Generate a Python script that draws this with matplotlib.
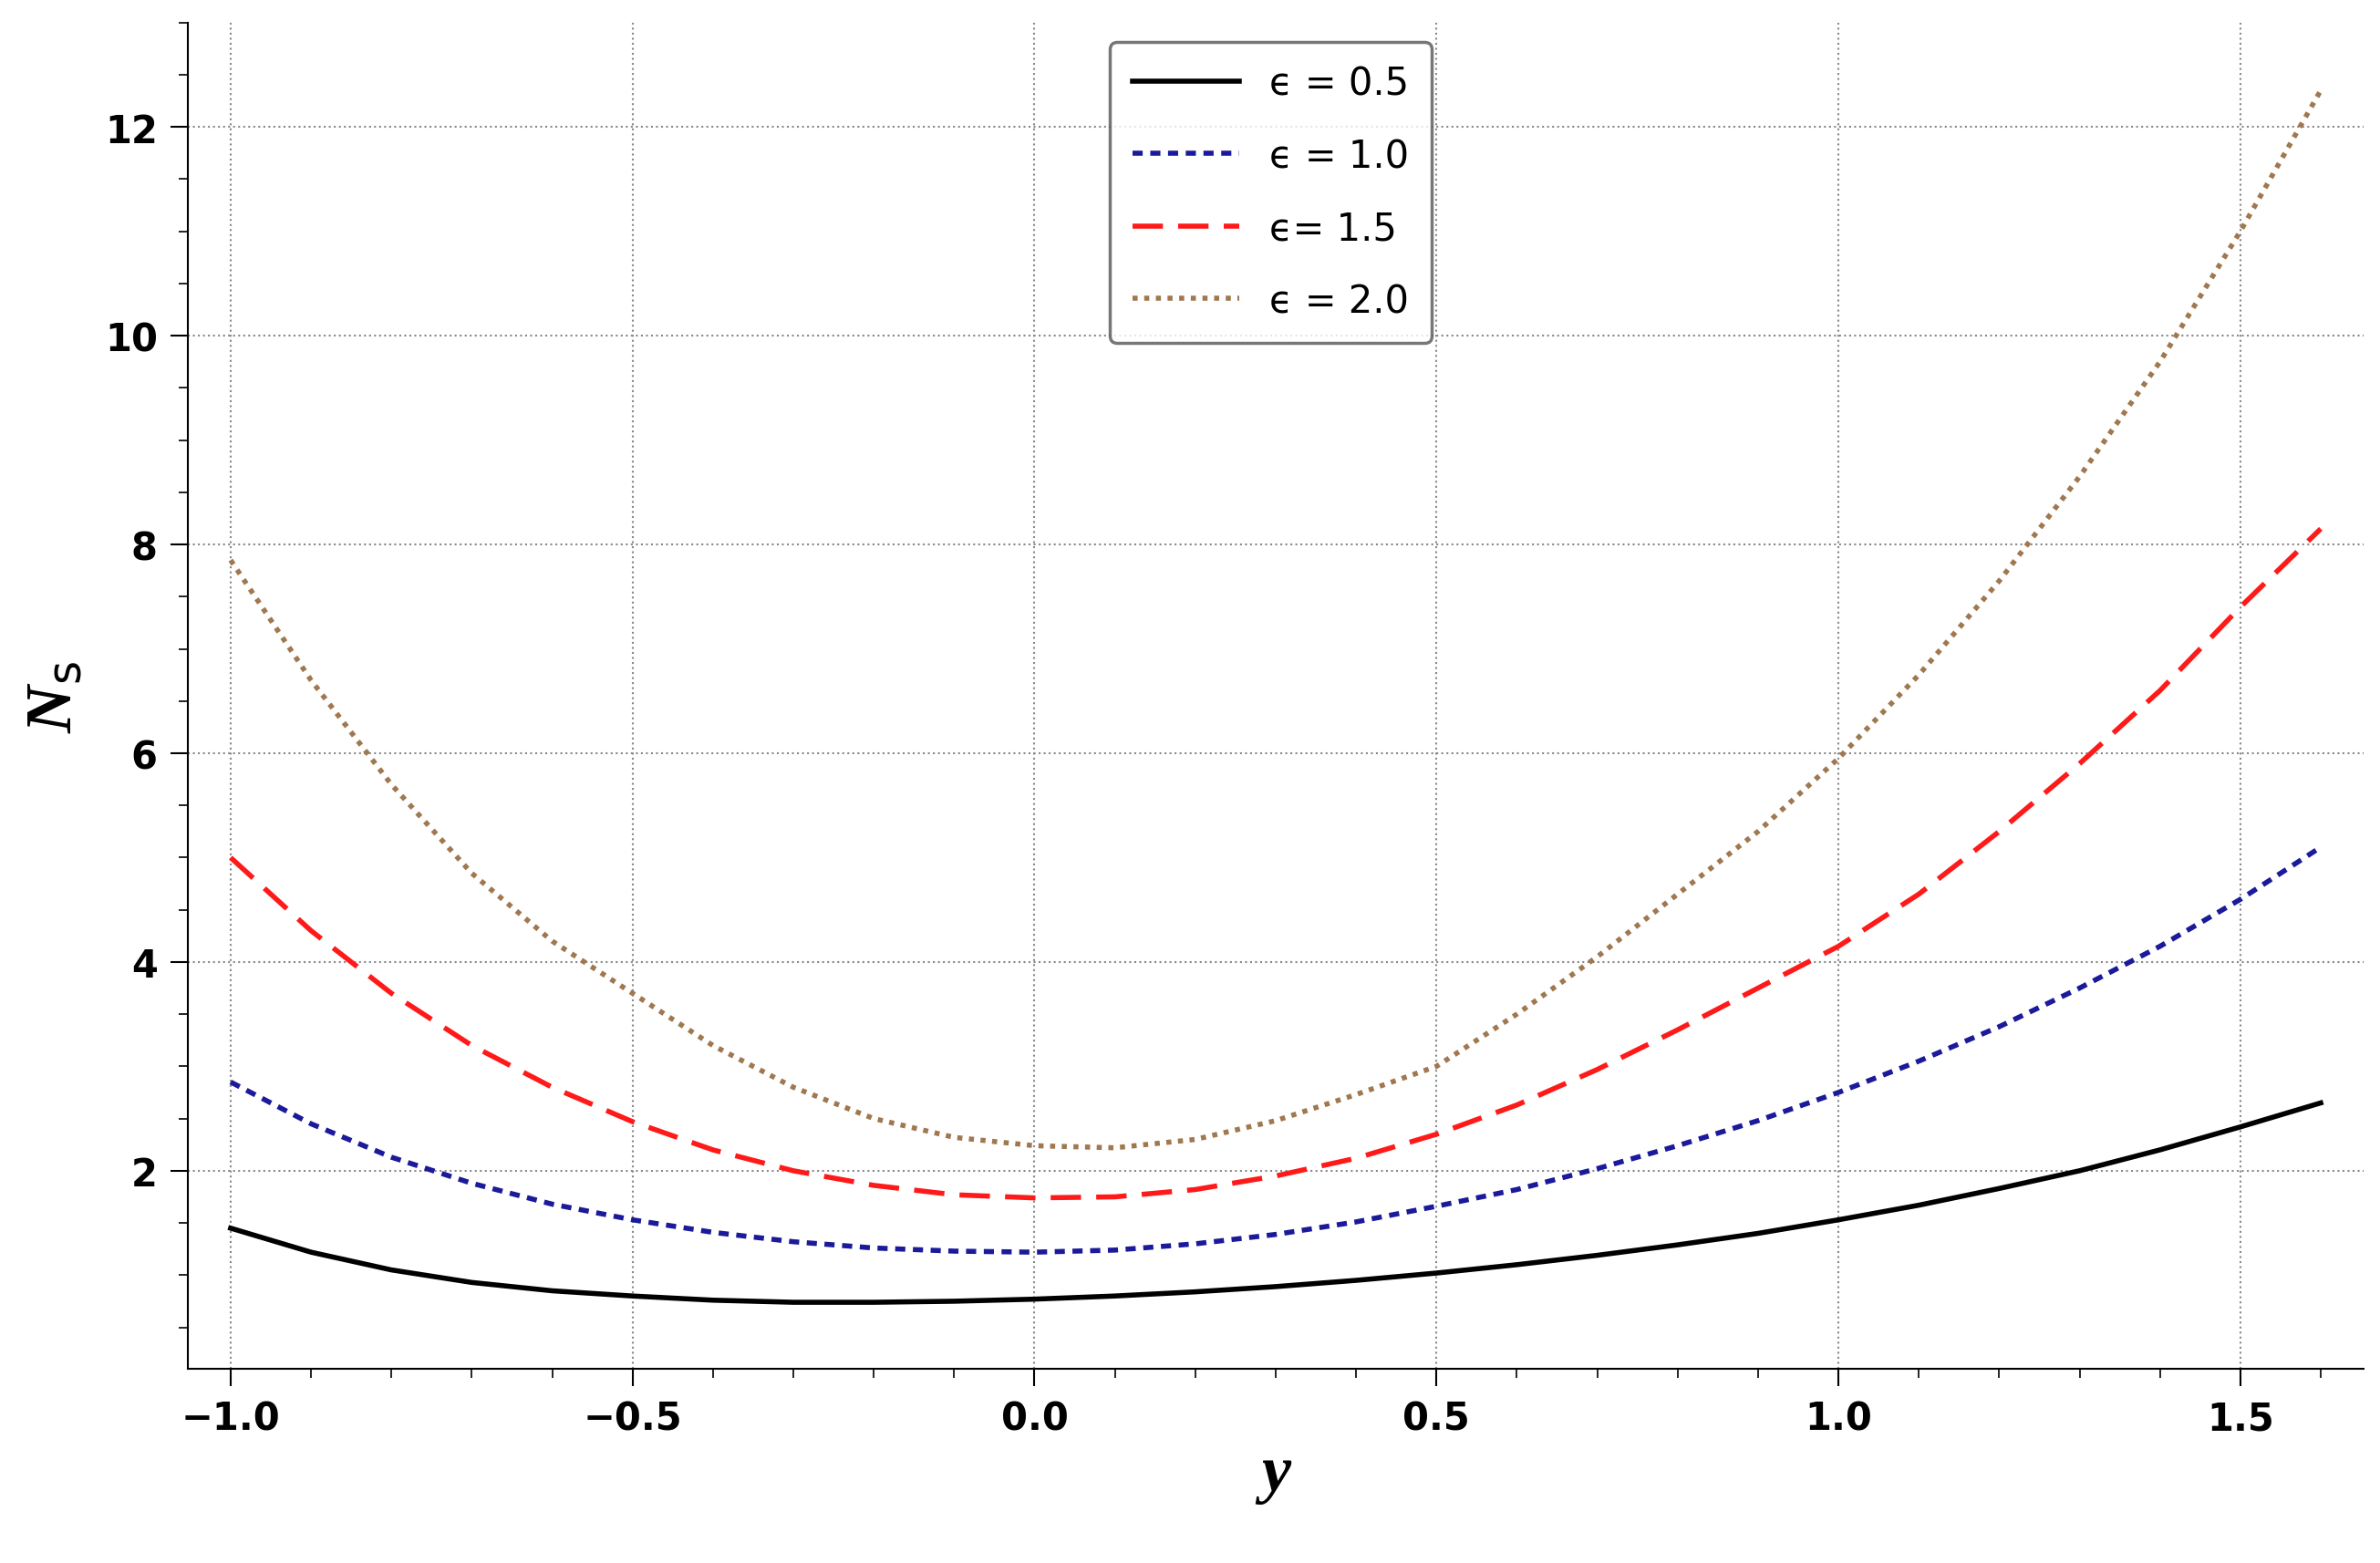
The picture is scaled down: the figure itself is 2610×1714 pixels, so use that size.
import numpy as np
import matplotlib.pyplot as plt
from matplotlib.ticker import MultipleLocator

y = [-1.0, -0.9, -0.8, -0.7, -0.6, -0.5, -0.4, -0.3, -0.2, -0.1, 0.0, 0.1, 0.2,
     0.3, 0.4, 0.5, 0.6, 0.7, 0.8, 0.9, 1.0, 1.1, 1.2, 1.3, 1.4, 1.5, 1.6]
ns_05 = [1.45, 1.22, 1.05, 0.93, 0.85, 0.80, 0.76, 0.74, 0.74, 0.75, 0.77, 0.80, 0.84,
         0.89, 0.95, 1.02, 1.10, 1.19, 1.29, 1.40, 1.53, 1.67, 1.83, 2.00, 2.20, 2.42, 2.65]
ns_10 = [2.85, 2.45, 2.13, 1.88, 1.68, 1.53, 1.41, 1.32, 1.26, 1.23, 1.22, 1.24, 1.30,
         1.39, 1.51, 1.66, 1.82, 2.02, 2.24, 2.48, 2.75, 3.05, 3.38, 3.75, 4.15, 4.60, 5.10]
ns_15 = [5.0, 4.3, 3.7, 3.2, 2.8, 2.47, 2.2, 2.0, 1.86, 1.77, 1.74, 1.75, 1.82,
         1.95, 2.12, 2.35, 2.63, 2.97, 3.35, 3.75, 4.15, 4.65, 5.25, 5.9, 6.6, 7.4, 8.15]
ns_20 = [7.85, 6.7, 5.7, 4.85, 4.2, 3.7, 3.2, 2.8, 2.5, 2.32, 2.24, 2.22, 2.3,
         2.48, 2.73, 3.0, 3.5, 4.05, 4.65, 5.25, 5.95, 6.75, 7.65, 8.65, 9.75, 11.0, 12.35]
labels = ['\u03f5 = 0.5', '\u03f5 = 1.0', '\u03f5= 1.5', '\u03f5 = 2.0']
xticks = [-1.0, -0.5, 0.0, 0.5, 1.0, 1.5]
xticklabels = ['\u22121.0', '\u22120.5', '0.0', '0.5', '1.0', '1.5']
yticks = [2, 4, 6, 8, 10, 12]

fig = plt.figure(figsize=(26.1, 17.15), dpi=100)
ax = fig.add_axes([0.079, 0.124, 0.914, 0.861])

ax.plot(y, ns_05, color='black', lw=4, label=labels[0])
ax.plot(y, ns_10, color='#1a1a9a', lw=4, linestyle=(0, (2, 1.5)), label=labels[1])
ax.plot(y, ns_15, color='#ff1a1a', lw=4, linestyle=(0, (6, 3)), label=labels[2])
ax.plot(y, ns_20, color='#a07850', lw=4, linestyle=(0, (1, 1.3)), label=labels[3])

ax.set_xlim(-1.053, 1.653)
ax.set_ylim(0.1, 13.0)
ax.set_xticks(xticks)
ax.set_xticklabels(xticklabels)
ax.set_yticks(yticks)
ax.xaxis.set_minor_locator(MultipleLocator(0.1))
ax.yaxis.set_minor_locator(MultipleLocator(0.5))
ax.grid(True, which='major', color='#888888', linestyle=':', lw=1.5)

for s in ['top', 'right']:
    ax.spines[s].set_visible(False)
for s in ['left', 'bottom']:
    ax.spines[s].set_linewidth(1.5)
ax.tick_params(which='major', length=14, width=1.5, labelsize=30, pad=10)
ax.tick_params(which='minor', length=7, width=1.2)
for t in ax.get_xticklabels() + ax.get_yticklabels():
    t.set_fontweight('bold')

ax.set_xlabel('y', fontsize=52, fontstyle='italic', fontweight='bold', family='Liberation Serif', labelpad=5)
ax.set_ylabel('N$_\\mathrm{s}$', fontsize=52, fontstyle='italic', fontweight='bold',
              family='Liberation Serif', labelpad=15)

leg = ax.legend(loc='upper left', bbox_to_anchor=(0.415, 1.0), fontsize=30, handlelength=2.8,
                frameon=True, fancybox=True, edgecolor='#555555', labelspacing=0.9, borderpad=0.6)
leg.get_frame().set_linewidth(2.5)

fig.savefig('out.png', dpi=100)
